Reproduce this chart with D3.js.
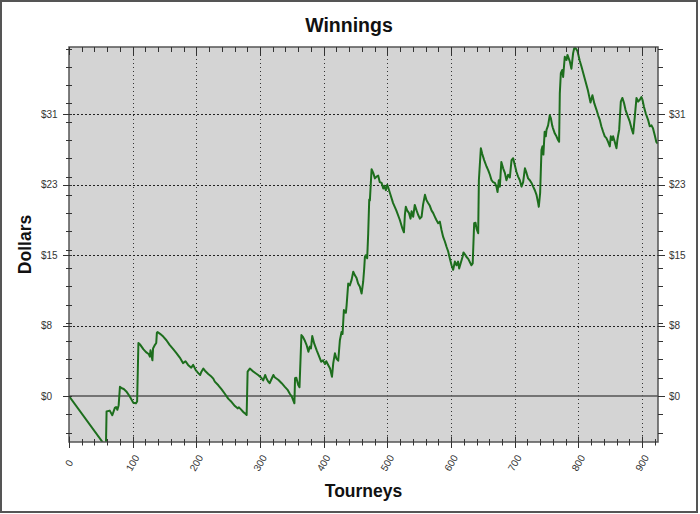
<!DOCTYPE html>
<html><head><meta charset="utf-8">
<script src="https://cdn.jsdelivr.net/npm/d3@7"></script>
<style>body{margin:0;background:#fff}svg{display:block;font-family:"Liberation Sans",Arial,sans-serif}</style>
</head><body><svg id="c" width="700" height="514"></svg>
<script>
// ---- data ----
const tourneys = [0,58,59,64,68,72,74,76,78,80,83,86,90,95,101,105,107,109,112,117,121,125,127,128,131,132,135,137,138,139,143,148,153,158,164,169,174,179,183,187,192,195,199,203,
206,208,211,213.5,218.7,224,226.6,229,234.5,239.7,245,250,255.4,260.6,264.8,266.9,270,273.7,276.3,279,280.5,
284,288,292,297,302,305,308,310,313,315,321,323,329,334,339,343,347,350,352,354,355,357,360,362,365,367,370,373,376,378,380,382,385,389,392,396,399,402,404,407,410,413,
415,417.6,420,422.8,425.4,428,429.6,431.7,434.8,436,438.5,441,443.8,446.4,449,451.6,454,456.8,459.5,462,463.6,464.7,466,468.3,469.9,471.5,472.5,475.2,477.8,480.4,483,485.6,488,491,493.5,495,497.6,499.8,501.3,504,509,514,519.6,523.7,526,527.5,529,531,534,536.4,538,540.5,543,545.8,548.4,551,553.7,556,559,561.5,564,566.7,569.3,572,574.6,577,579.8,582.4,585,587.6,590.3,593,595.5,598,600.8,603.3,606,608.6,611,612.7,615,618,619.5,621.7,624.3,627,632,634,636.3,638.4,640,642.6,643.7,646.8,648.9,652,655.7,658.3,661,663.6,666,668.8,671.3,673,675,676.6,679,681.8,684.5,687,689.6,692.3,695,697.5,700,702.8,705.3,708,710.6,713.2,716,718.5,721,723.7,726.4,728.9,731.6,734.2,736.8,737.8,739.9,742,743.6,745,747,748.8,749.9,752.4,755,756.7,758.8,760,763,765.5,768,769.7,770.8,772.4,774.5,776,778.6,781.3,782.8,786.5,789,791.7,794,797,798.6,802,804.9,810,815,819,822,825,828.4,831,833.6,836,838.8,841.4,844,846.6,849.3,850.9,853,854.5,857,859.8,861.2,862.4,864,866.6,869,871.8,874,877,880.7,883.3,886,888.5,891.2,893.8,896.4,899,900.6,903,905.8,909.4,912,914.8,917,920,922.3,924.6];
const dollars = [0,-5.55,-1.7,-1.6,-2.1,-1.3,-1.2,-1.5,-1.0,1.0,0.85,0.77,0.5,0.0,-0.73,-0.8,-0.6,5.8,5.6,5.1,4.8,4.6,4.3,5.0,3.9,5.2,5.6,5.8,6.9,7.0,6.8,6.5,6.1,5.6,5.1,4.67,4.2,3.6,3.8,3.4,3.1,3.4,2.84,2.5,
2.3,2.66,3.0,2.77,2.4,2.1,1.9,1.57,1.17,0.73,0.22,-0.29,-0.66,-1.1,-1.35,-1.24,-1.46,-1.75,-1.9,-2.08,2.66,
3.0,2.75,2.55,2.3,2.0,1.7,2.3,1.95,1.57,1.4,2.3,2.05,1.75,1.4,1.0,0.7,0.22,-0.07,-0.44,-0.8,1.94,2.0,1.2,0.95,6.67,6.5,6.1,5.6,4.85,5.4,5.2,6.56,5.75,5.0,4.48,3.75,3.9,3.5,3.8,3.4,3.0,2.1,
3.6,4.67,4.1,3.86,6.1,7.0,6.78,9.4,9.1,9.95,12.3,12.1,12.7,13.6,13.2,12.9,12.3,11.95,11.2,12.5,13.95,15.2,15.4,15.06,17.8,21.5,21.4,24.8,24.4,23.8,24.0,24.1,23.4,23.3,22.7,23.0,22.5,23.1,22.8,22.2,21.1,20.3,19.25,18.3,17.9,19.8,20.7,20.3,20.0,19.4,20.2,19.6,20.9,20.3,19.8,19.4,19.6,20.9,22.0,21.4,21.1,20.8,20.3,20.0,19.6,19.25,18.9,19.07,18.15,17.4,16.9,16.3,15.8,15.06,14.3,13.8,14.7,14.3,14.7,13.95,14.5,15.2,15.7,15.5,15.2,15.0,14.3,14.5,18.9,18.95,18.3,17.8,23.6,27.1,26.5,25.8,25.1,24.7,24.2,23.6,23.4,23.3,22.9,22.3,23.6,22.9,25.6,24.9,24.4,23.6,24.2,23.9,25.8,26.0,25.3,24.5,24.0,23.6,22.9,23.4,24.9,24.4,23.8,23.6,23.3,22.9,22.5,22.0,21.1,20.7,22.2,26.9,27.3,26.4,28.9,28.4,29.1,29.6,30.7,30.4,29.6,29.3,28.7,28.4,28.0,27.8,33.1,35.3,35.65,34.9,37.1,36.75,37.3,36.6,35.8,37.5,38.2,37.9,37.7,36.7,36.0,34.7,33.4,32.1,32.9,32.0,31.3,30.7,30.2,29.5,28.9,28.4,28.2,27.8,27.3,28.4,28.0,28.4,27.8,27.1,28.0,28.5,29.1,32.2,32.6,32.0,31.3,30.7,30.0,29.3,28.7,30.5,32.6,32.2,32.4,32.7,32.4,31.6,30.9,30.2,29.5,29.6,29.3,28.5,27.8,27.6];
const xMajorTicks = [0,100,200,300,400,500,600,700,800,900];
const xMinorTicks = d3.range(0, 925, 20);
const yMajorTicks = [0,7.7,15.4,23.1,30.8];
const yTickLabels = ["$0","$8","$15","$23","$31"];
const yMinorTicks = d3.range(-4, 39, 2);
const titleText = "Winnings", xTitle = "Tourneys", yTitle = "Dollars";

// ---- layout ----
const L = 69, R = 658, T = 47, B = 442;
const svg = d3.select("#c");
const x = d3.scaleLinear().domain([0, 925]).range([L, R]);
const y = d3.scaleLinear().domain([-5.03, 38.17]).range([B, T]);

svg.append("rect").attr("x",1).attr("y",1).attr("width",696).attr("height",511)
  .attr("fill","#fff").attr("stroke","#555").attr("stroke-width",2);
svg.append("rect").attr("x",L).attr("y",T).attr("width",R-L).attr("height",B-T).attr("fill","#d4d4d4");

// grid
svg.append("g").selectAll("line").data(xMajorTicks.filter(d=>d>0)).join("line")
  .attr("x1",d=>Math.round(x(d))+0.5).attr("x2",d=>Math.round(x(d))+0.5).attr("y1",T).attr("y2",B)
  .attr("stroke","#333").attr("stroke-width",1).attr("stroke-dasharray","1,3");
svg.append("g").selectAll("line").data(yMajorTicks.filter(d=>d>0)).join("line")
  .attr("x1",L).attr("x2",R).attr("y1",d=>Math.round(y(d))+0.5).attr("y2",d=>Math.round(y(d))+0.5)
  .attr("stroke","#222").attr("stroke-width",1).attr("stroke-dasharray","2,2");
svg.append("line").attr("x1",L).attr("x2",R).attr("y1",y(0)).attr("y2",y(0))
  .attr("stroke","#555").attr("stroke-width",1.3);

// data line
svg.append("clipPath").attr("id","cp").append("rect").attr("x",L).attr("y",T).attr("width",R-L).attr("height",B-T);
const pts = tourneys.map((t,i)=>[t,dollars[i]]);
svg.append("path").datum(pts).attr("clip-path","url(#cp)")
  .attr("d", d3.line().x(d=>x(d[0])).y(d=>y(d[1])))
  .attr("fill","none").attr("stroke","#1d6e1d").attr("stroke-width",2).attr("stroke-linejoin","round");

// frame
svg.append("rect").attr("x",L).attr("y",T).attr("width",R-L).attr("height",B-T)
  .attr("fill","none").attr("stroke","#555").attr("stroke-width",1.5);

const tk = svg.append("g").attr("stroke","#333").attr("stroke-width",1);
// x ticks bottom & top
tk.selectAll(".xb").data(xMinorTicks).join("line")
  .attr("x1",d=>Math.round(x(d))+0.5).attr("x2",d=>Math.round(x(d))+0.5)
  .attr("y1",d=>xMajorTicks.includes(d)?436.5:439).attr("y2",d=>xMajorTicks.includes(d)?448:445.5);
tk.selectAll(".xt").data(xMinorTicks).join("line")
  .attr("x1",d=>Math.round(x(d))+0.5).attr("x2",d=>Math.round(x(d))+0.5)
  .attr("y1",T).attr("y2",d=>xMajorTicks.includes(d)?55:52);
// y ticks left & right
tk.selectAll(".yl").data(yMinorTicks).join("line")
  .attr("y1",d=>Math.round(y(d))+0.5).attr("y2",d=>Math.round(y(d))+0.5).attr("x1",66).attr("x2",72);
tk.selectAll(".ylM").data(yMajorTicks).join("line")
  .attr("y1",d=>Math.round(y(d))+0.5).attr("y2",d=>Math.round(y(d))+0.5).attr("x1",63).attr("x2",72);
tk.selectAll(".yr").data(yMinorTicks).join("line")
  .attr("y1",d=>Math.round(y(d))+0.5).attr("y2",d=>Math.round(y(d))+0.5).attr("x1",R).attr("x2",663);
tk.selectAll(".yrM").data(yMajorTicks).join("line")
  .attr("y1",d=>Math.round(y(d))+0.5).attr("y2",d=>Math.round(y(d))+0.5).attr("x1",R).attr("x2",665);

// tick labels
svg.append("g").selectAll("text").data(yMajorTicks).join("text")
  .attr("x",41).attr("y",d=>y(d)).attr("dy","0.35em").attr("font-size",10).attr("fill","#333")
  .text((d,i)=>yTickLabels[i]);
svg.append("g").selectAll("text").data(yMajorTicks).join("text")
  .attr("x",669).attr("y",d=>y(d)).attr("dy","0.35em").attr("font-size",10).attr("fill","#333")
  .text((d,i)=>yTickLabels[i]);
svg.append("g").selectAll("text").data(xMajorTicks).join("text")
  .attr("transform",d=>`translate(${x(d)},463) rotate(-60)`)
  .attr("text-anchor","middle").attr("dy","0.35em").attr("font-size",10).attr("fill","#333")
  .text(d=>d);

// titles
svg.append("text").attr("x",349).attr("y",31.5).attr("text-anchor","middle")
  .attr("font-size",19.5).attr("font-weight","bold").attr("fill","#111").text(titleText);
svg.append("text").attr("x",363.5).attr("y",496.5).attr("text-anchor","middle")
  .attr("font-size",17.5).attr("font-weight","bold").attr("fill","#111").text(xTitle);
svg.append("text").attr("transform","translate(31,244.5) rotate(-90)").attr("text-anchor","middle")
  .attr("font-size",17.5).attr("font-weight","bold").attr("fill","#111").text(yTitle);
</script></body></html>
